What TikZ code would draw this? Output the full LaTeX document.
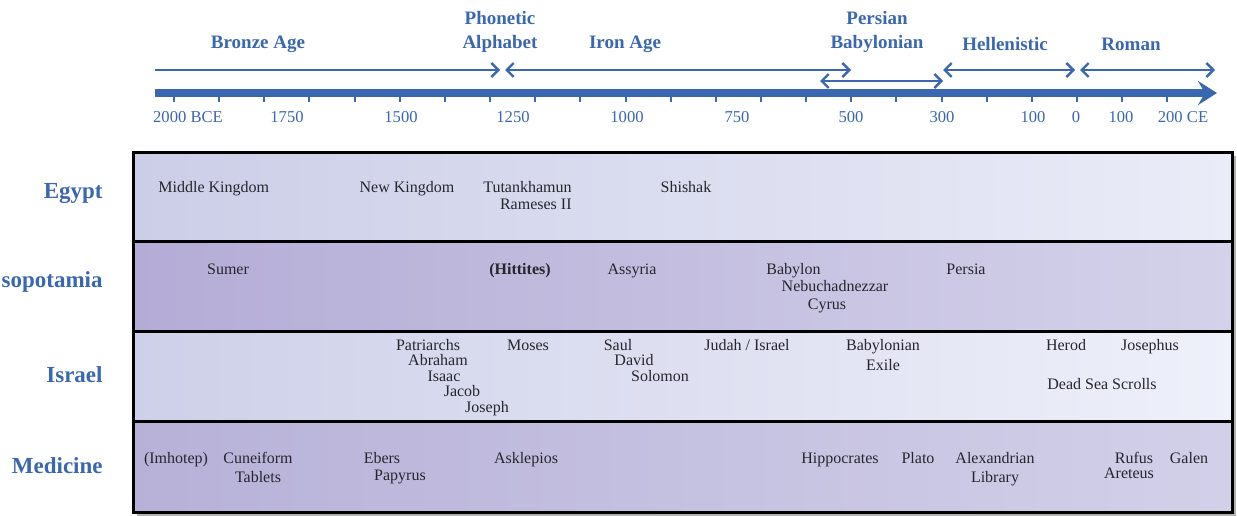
\documentclass[tikz,border=0pt]{standalone}
\usepackage{fontspec}
\setmainfont{Liberation Serif}
\usepackage{tikz}
\usetikzlibrary{arrows.meta,positioning}
\definecolor{tlblue}{RGB}{58,104,176}
\definecolor{tltext}{RGB}{38,38,45}
\definecolor{egA}{RGB}{204,206,232}
\definecolor{egB}{RGB}{234,236,248}
\definecolor{msA}{RGB}{180,172,214}
\definecolor{msB}{RGB}{212,210,234}
\definecolor{isA}{RGB}{206,208,233}
\definecolor{isB}{RGB}{238,240,250}
\definecolor{mdA}{RGB}{183,177,216}
\definecolor{mdB}{RGB}{210,208,233}

\begin{document}
\begin{tikzpicture}[x=0.5pt,y=-0.5pt,
  era/.style={font=\fontsize{9.5}{12}\selectfont\bfseries,text=tlblue,align=center,inner sep=0pt},
  yearlbl/.style={font=\fontsize{8.3}{9}\selectfont,text=tlblue,inner sep=0pt},
  rowlbl/.style={font=\fontsize{11.5}{13}\selectfont\bfseries,text=tlblue,anchor=east,inner sep=0pt},
  item/.style={font=\fontsize{8}{9}\selectfont,text=tltext,inner sep=0pt,
    text height=5.8pt,text depth=1.8pt},
  period/.style={draw=tlblue,line width=1.2pt,
    {Straight Barb[length=3.5pt,width=7pt]}-{Straight Barb[length=3.5pt,width=7pt]}},
  periodR/.style={draw=tlblue,line width=1.2pt,-{Straight Barb[length=3.5pt,width=7pt]}},
  yeartick/.style={draw=tlblue,line width=1pt},
  rule/.style={line width=1.5pt},
]
  \clip (0,0) rectangle (1237,515);
  \fill[white] (0,0) rectangle (1237,515);

  \node[era] (bronze) at (258,44) {Bronze Age};
  \node[era] (phonetic) at (500,32) {Phonetic\\Alphabet};
  \node[era] (iron) at (625,44) {Iron Age};
  \node[era] (persian) at (877,32) {Persian\\Babylonian};
  \node[era] (hellen) at (1005,44) {Hellenistic};
  \node[era] (roman) at (1131,44) {Roman};

  \coordinate (bz-a) at (155,70);  \coordinate (bz-b) at (500,70);
  \coordinate (ir-a) at (505,70);  \coordinate (ir-b) at (851,70);
  \coordinate (pb-a) at (820,81);  \coordinate (pb-b) at (943,81);
  \coordinate (he-a) at (943,70);  \coordinate (he-b) at (1075,70);
  \coordinate (ro-a) at (1080,70); \coordinate (ro-b) at (1215,70);
  \draw[periodR] (bz-a) -- (bz-b);
  \draw[period] (ir-a) -- (ir-b);
  \draw[period] (pb-a) -- (pb-b);
  \draw[period] (he-a) -- (he-b);
  \draw[period] (ro-a) -- (ro-b);

  \coordinate (ax-a) at (155,93); \coordinate (ax-b) at (1217,93);
  \foreach \i in {0,...,22}
    \draw[yeartick] ({174+45.15*\i},93) -- ++(0,9);
  \draw[draw=tlblue,line width=3.8pt,
    -{Stealth[length=9.5pt,width=12pt,inset=3.5pt]}] (ax-a) -- (ax-b);
  \foreach \x/\t in {188/2000 BCE,287/1750,401/1500,513/1250,627/1000,737/750,
      851/500,942/300,1033/100,1076/0,1121/100,1183/200 CE}
    \node[yearlbl] (yr\x) at (\x,117) {\t};

  \fill[black!30] (137,156) rectangle (1236,517);
  \shade[left color=egA,right color=egB] (133,152) rectangle (1232,241);
  \shade[left color=msA,right color=msB] (133,241) rectangle (1232,331);
  \shade[left color=isA,right color=isB] (133,331) rectangle (1232,421);
  \shade[left color=mdA,right color=mdB] (133,421) rectangle (1232,512);
  \draw[rule] (133,152) rectangle (1232,512);
  \draw[rule] (133,241) -- (1232,241);
  \draw[rule] (133,331) -- (1232,331);
  \draw[rule] (133,421) -- (1232,421);

  \node[rowlbl] (egypt) at (103,194) {Egypt};
  \node[rowlbl] (meso) at (103,282) {sopotamia};
  \node[rowlbl] (israel) at (103,375) {Israel};
  \node[rowlbl] (medicine) at (103,466) {Medicine};

  \node[item,anchor=west] (midk) at (158,188) {Middle Kingdom};
  \node[item] (newk) at (407,188) {New Kingdom};
  \node[item,anchor=east] (tut) at (572,188) {Tutankhamun};
  \node[item,anchor=east] (ram) at (572,205) {Rameses II};
  \node[item] (shishak) at (686,188) {Shishak};

  \node[item] (sumer) at (228,270) {Sumer};
  \node[item,font=\fontsize{8}{9}\selectfont\bfseries] (hitt) at (520,270) {(Hittites)};
  \node[item] (assyria) at (632,270) {Assyria};
  \node[item,anchor=west] (babylon) at (766,270) {Babylon};
  \node[item] (nebu) at (835,287) {Nebuchadnezzar};
  \node[item] (cyrus) at (827,305) {Cyrus};
  \node[item] (persia) at (966,270) {Persia};

  \node[item] (patr) at (428,346) {Patriarchs};
  \node[item] (abraham) at (438,361) {Abraham};
  \node[item] (isaac) at (444,377) {Isaac};
  \node[item] (jacob) at (462,392) {Jacob};
  \node[item] (joseph) at (487,408) {Joseph};
  \node[item] (moses) at (528,346) {Moses};
  \node[item] (saul) at (618,346) {Saul};
  \node[item] (david) at (634,361) {David};
  \node[item] (solomon) at (660,377) {Solomon};
  \node[item] (judah) at (747,346) {Judah / Israel};
  \node[item] (babex) at (883,346) {Babylonian};
  \node[item] (exile) at (883,366) {Exile};
  \node[item] (herod) at (1066,346) {Herod};
  \node[item] (josephus) at (1150,346) {Josephus};
  \node[item] (dss) at (1102,385) {Dead Sea Scrolls};

  \node[item] (imhotep) at (176,459) {(Imhotep)};
  \node[item] (cunei) at (258,459) {Cuneiform};
  \node[item] (tablets) at (258,478) {Tablets};
  \node[item] (ebers) at (382,459) {Ebers};
  \node[item] (papyrus) at (400,476) {Papyrus};
  \node[item] (askl) at (526,459) {Asklepios};
  \node[item] (hippo) at (840,459) {Hippocrates};
  \node[item] (plato) at (918,459) {Plato};
  \node[item] (alex) at (995,459) {Alexandrian};
  \node[item] (library) at (995,478) {Library};
  \node[item] (rufus) at (1134,459) {Rufus};
  \node[item] (areteus) at (1129,474) {Areteus};
  \node[item] (galen) at (1189,459) {Galen};
\end{tikzpicture}
\end{document}
